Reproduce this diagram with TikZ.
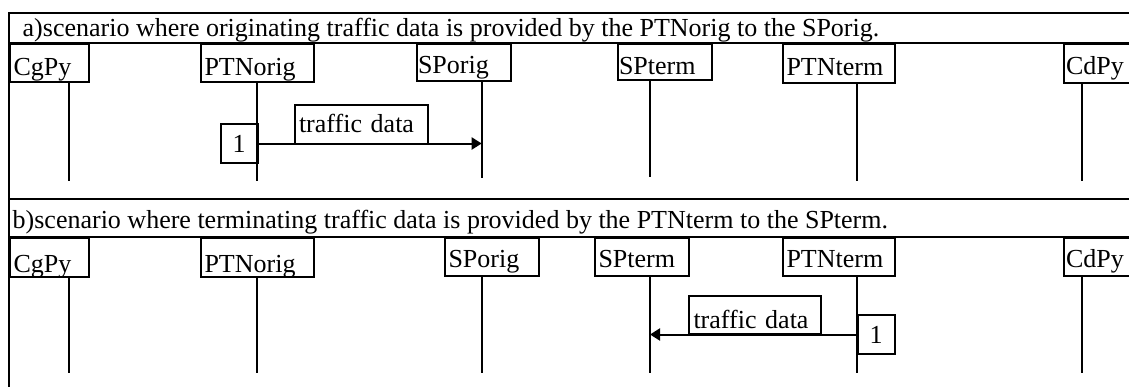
\documentclass[tikz,border=0pt]{standalone}
\usepackage{fontspec}
\setmainfont{Liberation Serif}
\usetikzlibrary{arrows.meta}

\begin{document}
\begin{tikzpicture}[x=1pt,y=-1pt,line width=2pt,
                every node/.style={font=\fontsize{26}{29}\selectfont,inner sep=0pt},
                party/.style={draw,anchor=north west,align=left,inner xsep=3.5pt,inner ysep=0pt},
                num/.style={draw,anchor=north west,minimum width=37pt,minimum height=39pt},
                >={Triangle[length=10pt,width=12pt]}]
            \useasboundingbox (0,0) rectangle (1129,386);
            \clip (0,0) rectangle (1129,386);

            % frame
            \draw (9,1200) -- (9,13) -- (1200,13);
            \draw (9,43) -- (1200,43);
            \draw (9,199) -- (1200,199);
            \draw (9,237) -- (1200,237);
            \node[anchor=base west] (titleA) at (21.7,36.7)
                {a)scenario where originating traffic data is provided by the PTNorig to the SPorig.};
            \node[anchor=base west] (titleB) at (11.7,228.7)
                {b)scenario where terminating traffic data is provided by the PTNterm to the SPterm.};

            % a) parties
            \node[party,text width=72pt,text height=31.5pt,text depth=6.5pt] (cgpyA) at (9,43) {CgPy};
            \node[party,text width=106pt,text height=31.5pt,text depth=6.5pt] (ptnorigA) at (200,43) {PTNorig};
            \node[party,inner xsep=1pt,text width=92pt,text height=29.7pt,text depth=7.3pt] (sporigA) at (416,43) {SPorig};
            \node[party,inner xsep=1pt,text width=92pt,text height=30pt,text depth=6pt] (sptermA) at (617,43) {SPterm};
            \node[party,text width=105pt,text height=31pt,text depth=8pt] (ptntermA) at (782,43) {PTNterm};
            \node[party,inner xsep=2pt,text width=96pt,text height=30pt,text depth=9pt] (cdpyA) at (1063,43) {CdPy};

            % b) parties
            \node[party,text width=72pt,text height=34pt,text depth=5pt] (cgpyB) at (9,237) {CgPy};
            \node[party,text width=106pt,text height=34pt,text depth=5pt] (ptnorigB) at (200,237) {PTNorig};
            \node[party,text width=87pt,text height=29.7pt,text depth=8.3pt] (sporigB) at (444,237) {SPorig};
            \node[party,text width=87pt,text height=29.7pt,text depth=8.3pt] (sptermB) at (594,237) {SPterm};
            \node[party,text width=105pt,text height=29.7pt,text depth=8.3pt] (ptntermB) at (782,237) {PTNterm};
            \node[party,inner xsep=2pt,text width=96pt,text height=29.7pt,text depth=8.3pt] (cdpyB) at (1063,237) {CdPy};

            % lifelines
            \path foreach \n/\x/\y in {cgpyA/69.3/181,ptnorigA/256.7/181,sporigA/481.7/178,
                                      sptermA/650/176.7,ptntermA/856.7/181,cdpyA/1081.7/181,
                                      cgpyB/69.3/372.7,ptnorigB/256.7/372.7,sporigB/481.7/372.7,
                                      sptermB/650/372.7,ptntermB/856.7/372.7,cdpyB/1081.7/372.7}
            {(\x,\y) coordinate (\n-end)};
            \foreach \n in {cgpyA,ptnorigA,sporigA,sptermA,ptntermA,cdpyA,
                            cgpyB,ptnorigB,sporigB,sptermB,ptntermB,cdpyB}
                \draw (\n.south -| \n-end) -- (\n-end);

            % a) message
            \node[num] (oneA) at (219.7,123) {1};
            \node[party,inner xsep=4.5pt,text width=124pt,text height=27pt,text depth=12pt] (trafA) at (293.5,104) {traffic data};
            \draw [->] (oneA.east) -- (oneA.east -| sporigA-end);

            % b) message
            \node[num] (oneB) at (856.7,314) {1};
            \node[party,inner xsep=4.5pt,text width=123pt,text height=32.7pt,text depth=5.3pt] (trafB) at (688,295) {traffic data};
            \draw [->] (oneB.west) -- (oneB.west -| sptermB-end);
        \end{tikzpicture}
\end{document}
